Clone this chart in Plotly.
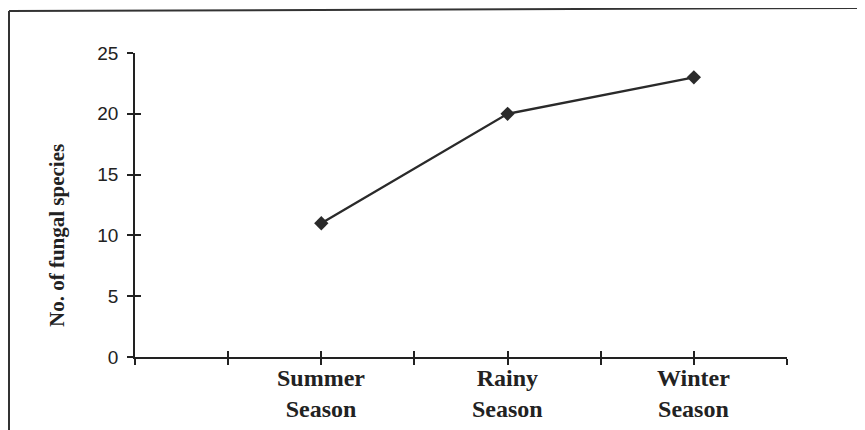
import plotly.graph_objects as go

categories = ["Summer Season", "Rainy Season", "Winter Season"]
species = [11, 20, 23]
y_ticks = [0, 5, 10, 15, 20, 25]
x_ticks = [0, 0.5, 1, 1.5, 2, 2.5, 3, 3.5]

positions = [i + 1 for i in range(len(categories))]

# page has an 8px body margin; work in page pixels and convert
OFF = 8
W, H = 865 - OFF, 430 - OFF
PL, PR, PT, PB = 135, 787, 53, 357   # plot area in page pixels
ML, MR, MT, MB = PL - OFF, W - (PR - OFF), PT - OFF, H - (PB - OFF)
PW, PH = W - ML - MR, H - MT - MB

def px_x(p):
    return (p - OFF - ML) / PW

def px_y(p):
    return (H - MB - (p - OFF)) / PH

ink = "#222222"

fig = go.Figure()
fig.add_trace(go.Scatter(
    x=positions, y=species, mode="lines+markers",
    line=dict(color="#2a2a2a", width=2.3),
    marker=dict(symbol="diamond", size=11, color="#2a2a2a"),
    showlegend=False, hoverinfo="skip",
))
# invisible twin for crossing ticks
fig.add_trace(go.Scatter(
    x=positions, y=species, mode="lines", xaxis="x2", yaxis="y2",
    line=dict(color="rgba(0,0,0,0)"), showlegend=False, hoverinfo="skip",
))

axis_common = dict(showgrid=False, zeroline=False, linecolor=ink, linewidth=1.6,
                   tickcolor=ink, tickwidth=1.6)

fig.update_layout(
    width=W, height=H,
    margin=dict(l=ML, r=MR, t=MT, b=MB, pad=0),
    paper_bgcolor="white", plot_bgcolor="white",
    xaxis=dict(range=[x_ticks[0], x_ticks[-1]], tickmode="array", tickvals=x_ticks,
               ticktext=["" for _ in x_ticks], ticks="outside", ticklen=6,
               showline=True, **axis_common),
    yaxis=dict(range=[y_ticks[0], y_ticks[-1]], tickmode="array", tickvals=y_ticks,
               ticks="outside", ticklen=6, showline=True, ticklabelstandoff=5,
               tickfont=dict(family="Liberation Sans, Arial", size=19, color=ink),
               **axis_common),
    xaxis2=dict(range=[x_ticks[0], x_ticks[-1]], overlaying="x", anchor="y2", side="bottom",
                tickmode="array", tickvals=x_ticks, ticks="inside", ticklen=6,
                showticklabels=False, showline=False, showgrid=False, zeroline=False,
                tickcolor=ink, tickwidth=1.6),
    yaxis2=dict(range=[y_ticks[0], y_ticks[-1]], overlaying="y", anchor="x2", side="left",
                tickmode="array", tickvals=y_ticks, ticks="inside", ticklen=6,
                showticklabels=False, showline=False, showgrid=False, zeroline=False,
                tickcolor=ink, tickwidth=1.6),
)

annotations = []
for pos, cat in zip(positions, categories):
    annotations.append(dict(
        x=pos, xref="x", y=px_y(393), yref="paper",
        text="<br>".join(cat.split(" ")), showarrow=False,
        xanchor="center", yanchor="middle", align="center",
        font=dict(family="Liberation Serif, Times New Roman", size=24, color=ink, weight="bold"),
    ))
annotations.append(dict(
    x=px_x(57), y=px_y(236), xref="paper", yref="paper",
    text="No. of fungal species", textangle=-90, showarrow=False,
    xanchor="center", yanchor="middle",
    font=dict(family="Liberation Serif, Times New Roman", size=21, color=ink, weight="bold"),
))
fig.update_layout(annotations=annotations)

# scanned frame: top and left border lines
fig.add_shape(type="line", xref="paper", yref="paper",
              x0=px_x(9), y0=px_y(11), x1=px_x(865), y1=px_y(8),
              line=dict(color="#333333", width=2))
fig.add_shape(type="line", xref="paper", yref="paper",
              x0=px_x(9), y0=px_y(11), x1=px_x(9), y1=px_y(430),
              line=dict(color="#333333", width=2))

fig.write_html("out.html")
